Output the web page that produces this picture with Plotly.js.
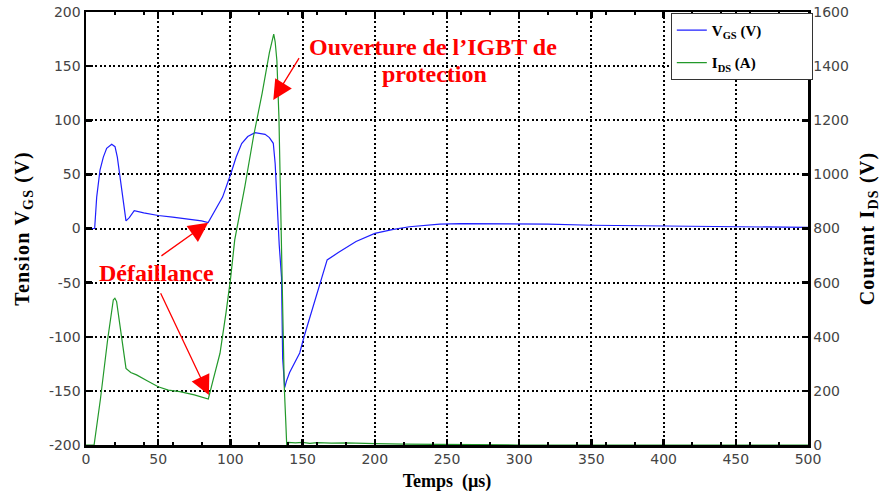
<!DOCTYPE html>
<html>
<head>
<meta charset="utf-8">
<script src="https://cdn.plot.ly/plotly-3.0.1.min.js"></script>
<style>
html,body{margin:0;padding:0;background:#fff;}
text.ytitle, text.y2title { letter-spacing: 1.2px; }
</style>
</head>
<body>
<div id="chart" style="width:887px;height:492px;"></div>
<script>
// Tension V_GS (V) vs temps (µs)
const vgsTime = [0, 6, 7.4, 9.7, 12, 14.3, 17.8, 20.1, 21.7, 23.5, 25.4, 27.7, 30, 33.4, 40, 50, 60, 70, 80, 84.6, 90, 94.6, 100.4, 104, 107.8, 112, 117, 121, 124, 127, 129.7, 131, 132.7, 133.8, 135.4, 136.2, 137.6, 138.8, 141, 144, 148, 151, 156, 162, 167, 175, 187, 200, 212, 224, 245, 260, 280, 300, 320, 350, 380, 400, 430, 460, 500];
const vgsValues = [0, 0, 29, 54, 66, 74, 77.8, 75.6, 66, 48, 26, 7, 10, 16.5, 14.5, 12, 10.5, 9, 7, 5.5, 18, 29, 51, 66, 78.5, 85, 88.5, 88, 87, 84, 78.7, 60, 11, -15, -45, -120, -147, -141, -133, -125, -115, -100, -78, -50, -29, -22, -12, -4.5, -1, 1.6, 4, 4.5, 4.5, 4.5, 4, 3, 2.5, 2, 1.5, 1.2, 1];
// Courant I_DS (A) vs temps (µs)
const idsTime = [0, 5.6, 10, 15, 18.9, 20, 21.2, 22.4, 24.7, 27.7, 31, 35, 42, 50, 57, 65, 75, 84.7, 88, 92.8, 97, 100, 103, 110, 116, 122, 127, 130, 131, 132.2, 133.6, 134.3, 135.4, 136.3, 137.3, 138.3, 139, 140, 145, 150, 155, 160, 170, 180, 190, 200, 220, 250, 300, 500];
const idsValues = [0, 0, 170, 390, 536, 542, 530, 487, 388, 283, 268, 259, 238, 215, 203, 197, 185, 170, 240, 339, 490, 610, 758, 955, 1140, 1300, 1450, 1518, 1490, 1420, 1213, 1004, 782, 500, 215, 92, 0, 10, 8, 10, 6, 9, 7, 8, 6, 5, 3, 2, 0, 0];
const xTicks = [0, 50, 100, 150, 200, 250, 300, 350, 400, 450, 500];
const yLeftTicks = [-200, -150, -100, -50, 0, 50, 100, 150, 200];
const yRightTicks = [0, 200, 400, 600, 800, 1000, 1200, 1400, 1600];
const seriesNames = ['V<sub>GS</sub> (V)', 'I<sub>DS</sub> (A)'];

const serif = 'Liberation Serif, Times New Roman, serif';
const sans = 'DejaVu Sans, Verdana, sans-serif';
const pad = '\u00a0'.repeat(12);

const traces = [
  {x: vgsTime, y: vgsValues, type: 'scatter', mode: 'lines', name: seriesNames[0] + pad, legendgroup: 'a',
   line: {color: '#1f1fff', width: 1.2}, yaxis: 'y'},
  {x: idsTime, y: idsValues, type: 'scatter', mode: 'lines', name: seriesNames[1] + pad, legendgroup: 'b',
   line: {color: '#22992a', width: 1.2}, yaxis: 'y2'}
];

const gridStyle = {showgrid: true, gridcolor: '#000', gridwidth: 2, griddash: '2px,2.5px'};
const titleFont = {family: serif, size: 20, color: '#000', weight: 'bold'};

const layout = {
  width: 887, height: 492, autosize: false,
  margin: {l: 86, r: 79, t: 12, b: 47, pad: 0},
  paper_bgcolor: '#fff', plot_bgcolor: '#fff',
  showlegend: true,
  legend: {x: 0.81, y: 0.998, xanchor: 'left', yanchor: 'top', bgcolor: '#fff',
    bordercolor: '#333', borderwidth: 1, font: {family: serif, size: 15, color: '#000', weight: 'bold'},
    tracegroupgap: 10, itemwidth: 30},
  xaxis: Object.assign({
    range: [0, 500], tickvals: xTicks, ticktext: xTicks.map(String), zeroline: false,
    showline: true, linecolor: '#000', linewidth: 2.5, mirror: 'ticks',
    ticks: 'inside', ticklen: 6, tickwidth: 2.5, tickcolor: '#000',
    minor: {dtick: 20, tick0: 0, ticks: 'inside', ticklen: 3, tickwidth: 2, tickcolor: '#000', showgrid: false},
    tickfont: {family: sans, size: 14, color: '#444'},
    title: {text: 'Temps\u00a0\u00a0(µs)', font: {family: serif, size: 18, color: '#000', weight: 'bold'}, standoff: 8},
    automargin: false
  }, gridStyle),
  yaxis: Object.assign({
    range: [-200, 200], tickvals: yLeftTicks, ticktext: yLeftTicks.map(String), zeroline: false,
    showline: true, linecolor: '#000', linewidth: 2.5,
    ticks: 'inside', ticklen: 6, tickwidth: 2.5, tickcolor: '#000',
    tickfont: {family: sans, size: 14, color: '#444'},
    title: {text: 'Tension V<sub>GS</sub> (V)', font: titleFont, standoff: 14},
    automargin: false
  }, gridStyle),
  yaxis2: {
    range: [0, 1600], tickvals: yRightTicks, ticktext: yRightTicks.map(String),
    overlaying: 'y', side: 'right', showgrid: false, zeroline: false,
    showline: true, linecolor: '#000', linewidth: 2.5,
    ticks: 'inside', ticklen: 6, tickwidth: 2.5, tickcolor: '#000',
    tickfont: {family: sans, size: 14, color: '#444'},
    title: {text: 'Courant I<sub>DS</sub> (V)', font: titleFont, standoff: 12},
    automargin: false
  },
  annotations: [
    {x: 240.2, y: 167.7, xref: 'x', yref: 'y', showarrow: false, align: 'center',
     text: 'Ouverture de l\u2019IGBT de',
     font: {family: serif, size: 24, color: '#ff0000', weight: 'bold'}},
    {x: 241, y: 142.7, xref: 'x', yref: 'y', showarrow: false, align: 'center',
     text: 'protection',
     font: {family: serif, size: 24, color: '#ff0000', weight: 'bold'}},
    {x: 48.5, y: -41, xref: 'x', yref: 'y', showarrow: false,
     text: 'Défaillance', font: {family: serif, size: 24, color: '#ff0000', weight: 'bold'}},
    {x: 129.7, y: 118.7, ax: 148.2, ay: 158.7, xref: 'x', yref: 'y', axref: 'x', ayref: 'y',
     text: '', showarrow: true, arrowhead: 2, arrowsize: 3, arrowwidth: 1.3, arrowcolor: '#ff0000'},
    {x: 84.6, y: 5.4, ax: 51.2, ay: -26.3, xref: 'x', yref: 'y', axref: 'x', ayref: 'y',
     text: '', showarrow: true, arrowhead: 2, arrowsize: 3, arrowwidth: 1.3, arrowcolor: '#ff0000'},
    {x: 85.1, y: -153.8, ax: 51.2, ay: -58.4, xref: 'x', yref: 'y', axref: 'x', ayref: 'y',
     text: '', showarrow: true, arrowhead: 2, arrowsize: 3, arrowwidth: 1.3, arrowcolor: '#ff0000'}
  ]
};

Plotly.newPlot('chart', traces, layout, {staticPlot: true, displayModeBar: false});
</script>
</body>
</html>
